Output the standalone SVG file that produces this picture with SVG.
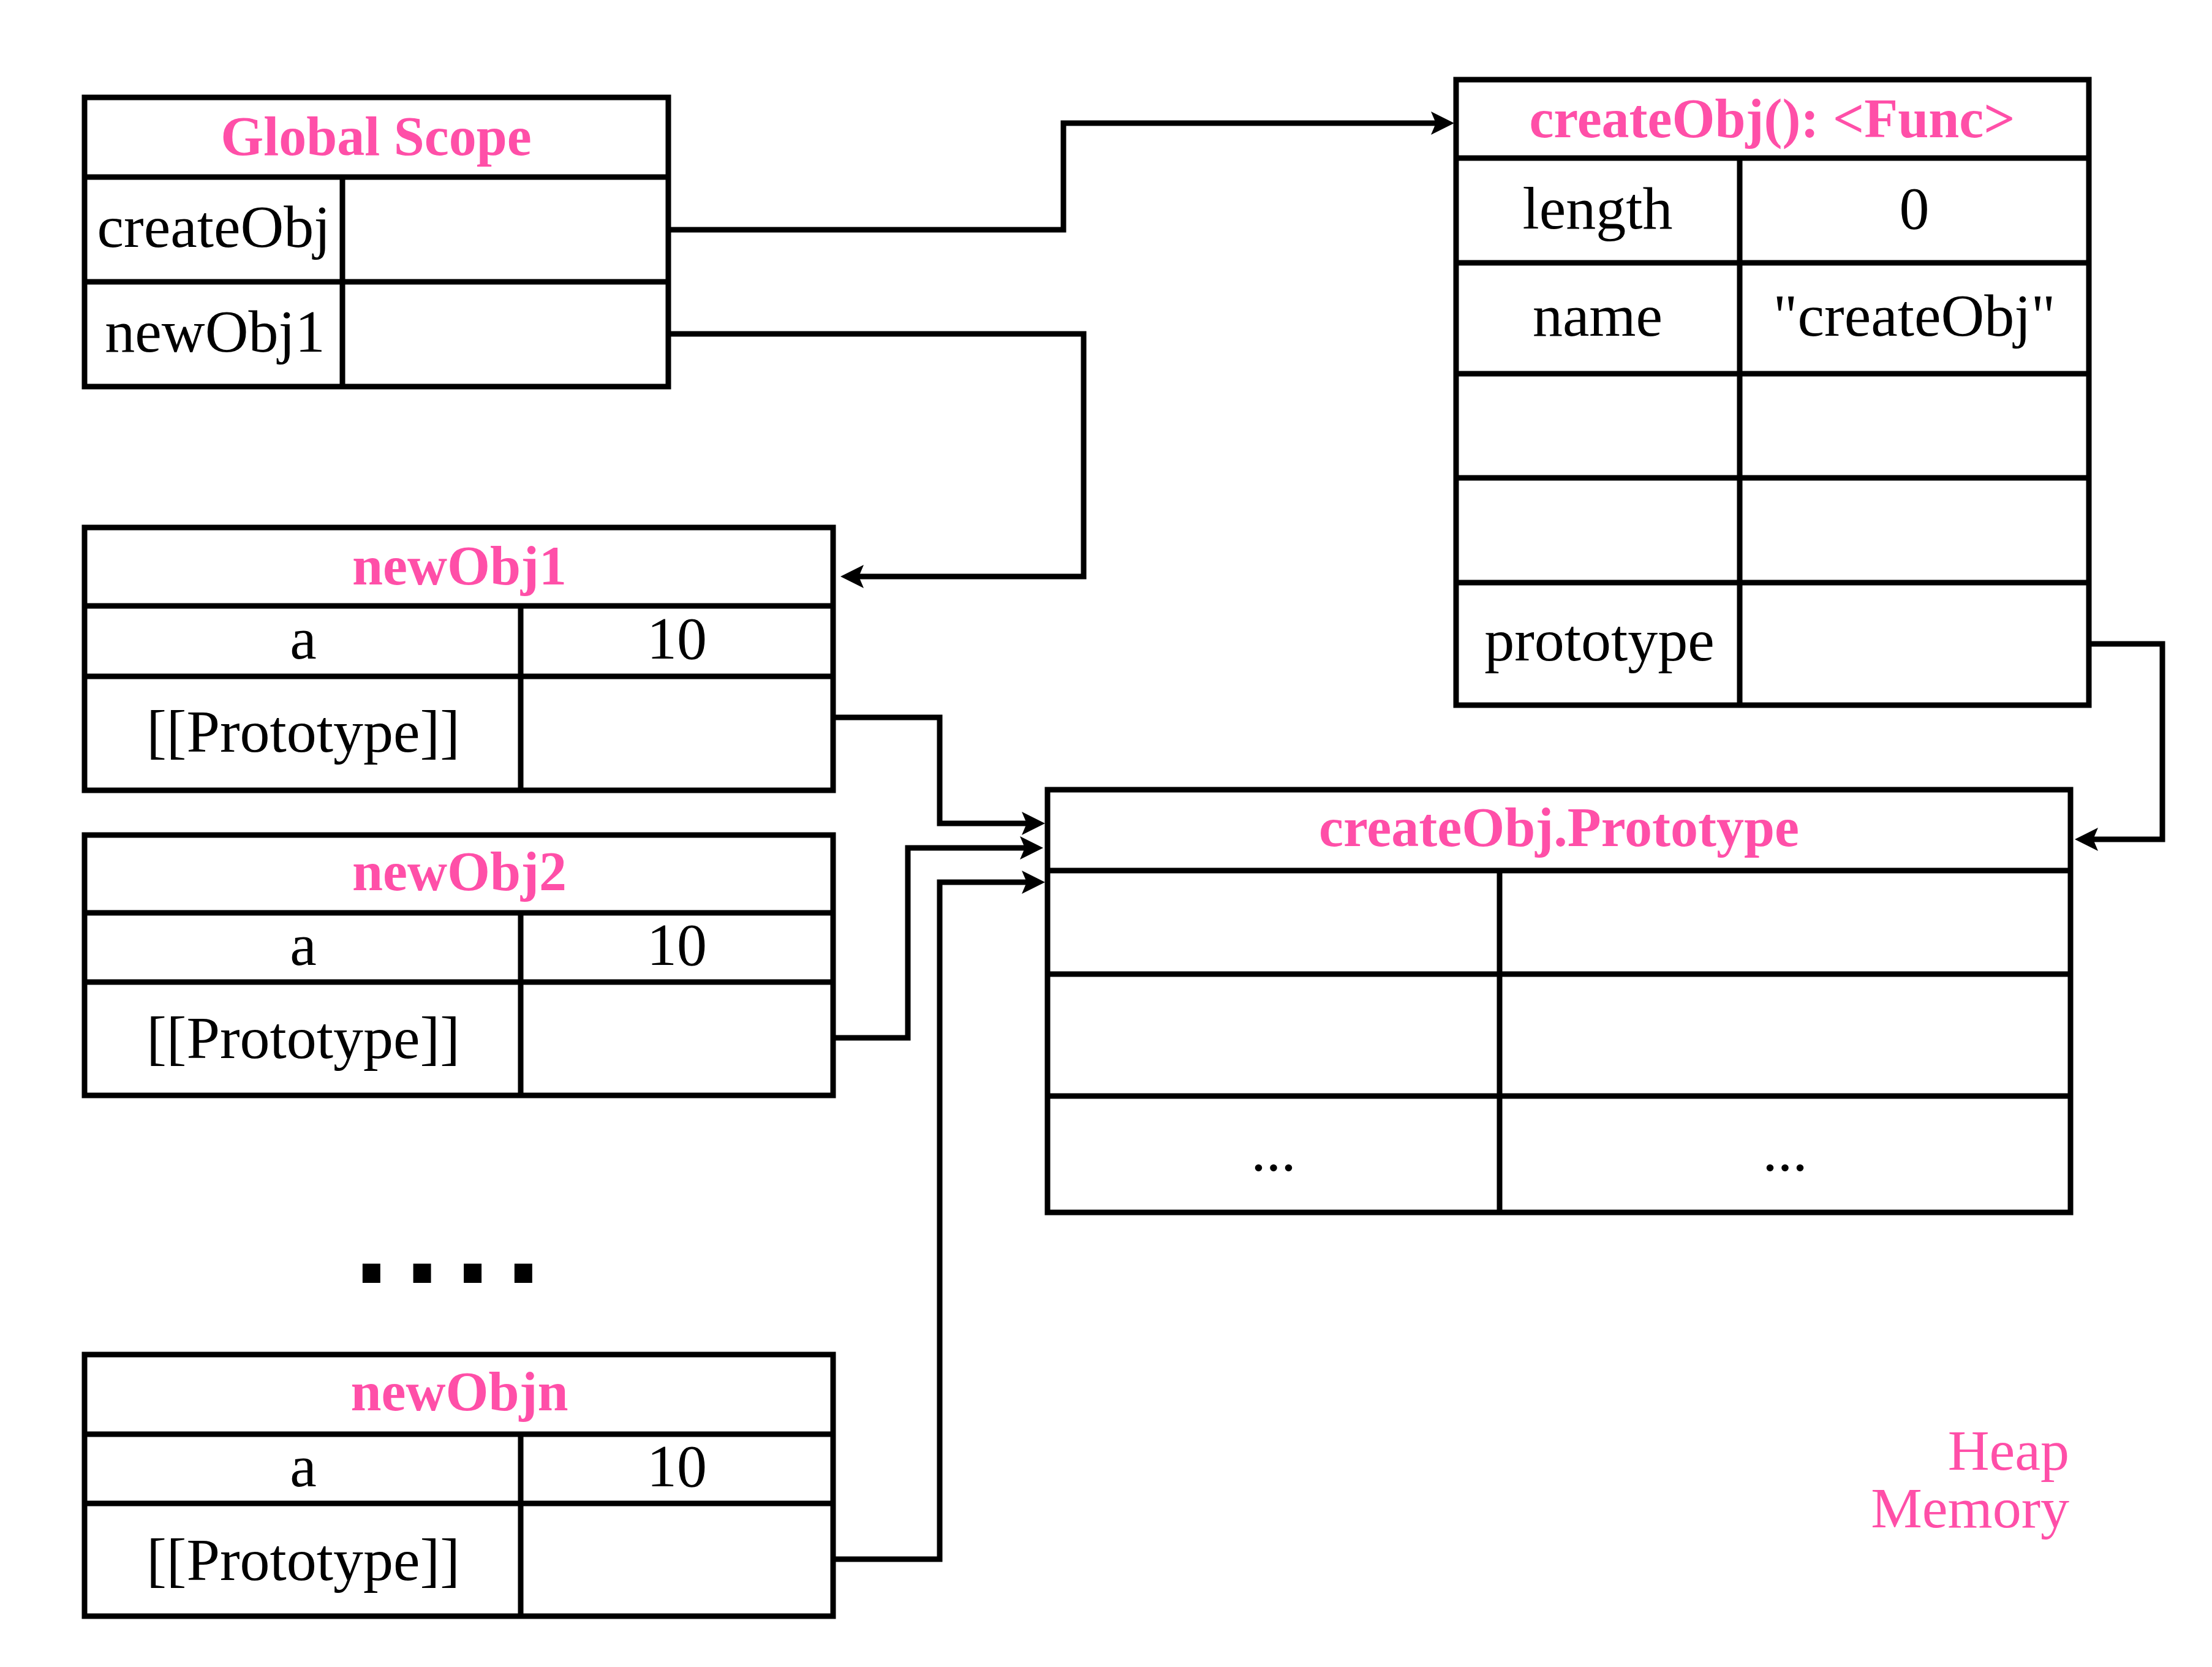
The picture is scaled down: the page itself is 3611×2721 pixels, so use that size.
<svg xmlns="http://www.w3.org/2000/svg" width="3611" height="2721" viewBox="0 0 3611 2721">
<style>
.bg{fill:#ffffff}
.box{fill:#ffffff;stroke:#000000;stroke-width:9}
.ln{stroke:#000000;stroke-width:9;fill:none}
.t{font-family:"Liberation Serif","DejaVu Serif",serif;font-size:98px;fill:#000000;text-anchor:middle}
.h{font-family:"Liberation Serif","DejaVu Serif",serif;font-size:90px;font-weight:bold;fill:#FF4FA8;text-anchor:middle}
.heap{font-family:"Liberation Serif","DejaVu Serif",serif;font-size:94px;fill:#FF4FA8;text-anchor:end}
.dots{font-family:"DejaVu Sans",sans-serif;font-size:165px;font-weight:bold;fill:#000000}
.conn{stroke:#000000;stroke-width:9;fill:none;marker-end:url(#arr)}
</style>
<defs>
<marker id="arr" markerUnits="userSpaceOnUse" viewBox="0 0 38 38" markerWidth="38" markerHeight="38" refX="18" refY="19" orient="auto">
<path d="M0,0 L38,19 L0,38 L8,19 Z" fill="#000000"/>
</marker>
</defs>
<rect class="bg" x="0" y="0" width="3611" height="2721"/>

<g id="global-scope">
<rect class="box" x="138" y="159" width="953" height="472"/>
<line class="ln" x1="138" y1="289" x2="1091" y2="289"/>
<line class="ln" x1="138" y1="460" x2="1091" y2="460"/>
<line class="ln" x1="559" y1="289" x2="559" y2="631"/>
<text class="h" x="614" y="253">Global Scope</text>
<text class="t" x="349" y="403">createObj</text>
<text class="t" x="351" y="574">newObj1</text>
</g>

<g id="createObj-func">
<rect class="box" x="2377" y="130" width="1033" height="1021"/>
<line class="ln" x1="2377" y1="258" x2="3410" y2="258"/>
<line class="ln" x1="2377" y1="429" x2="3410" y2="429"/>
<line class="ln" x1="2377" y1="610" x2="3410" y2="610"/>
<line class="ln" x1="2377" y1="780" x2="3410" y2="780"/>
<line class="ln" x1="2377" y1="951" x2="3410" y2="951"/>
<line class="ln" x1="2840" y1="258" x2="2840" y2="1151"/>
<text class="h" x="2893" y="224">createObj(): &lt;Func&gt;</text>
<text class="t" x="2608" y="373">length</text>
<text class="t" x="3125" y="373">0</text>
<text class="t" x="2608" y="548">name</text>
<text class="t" x="3125" y="548">"createObj"</text>
<text class="t" x="2611" y="1078">prototype</text>
</g>

<g id="newObj1">
<rect class="box" x="138" y="861" width="1222" height="429"/>
<line class="ln" x1="138" y1="989" x2="1360" y2="989"/>
<line class="ln" x1="138" y1="1104" x2="1360" y2="1104"/>
<line class="ln" x1="850" y1="989" x2="850" y2="1290"/>
<text class="h" x="750" y="954">newObj1</text>
<text class="t" x="495" y="1075">a</text>
<text class="t" x="1105" y="1075">10</text>
<text class="t" x="495" y="1227">[[Prototype]]</text>
</g>

<g id="newObj2">
<rect class="box" x="138" y="1363" width="1222" height="425"/>
<line class="ln" x1="138" y1="1490" x2="1360" y2="1490"/>
<line class="ln" x1="138" y1="1603" x2="1360" y2="1603"/>
<line class="ln" x1="850" y1="1490" x2="850" y2="1788"/>
<text class="h" x="750" y="1453">newObj2</text>
<text class="t" x="495" y="1575">a</text>
<text class="t" x="1105" y="1575">10</text>
<text class="t" x="495" y="1727">[[Prototype]]</text>
</g>

<g id="ellipsis">
<text class="dots" x="575" y="2094" letter-spacing="20">....</text>
</g>

<g id="newObjn">
<rect class="box" x="138" y="2211" width="1222" height="427"/>
<line class="ln" x1="138" y1="2341" x2="1360" y2="2341"/>
<line class="ln" x1="138" y1="2454" x2="1360" y2="2454"/>
<line class="ln" x1="850" y1="2341" x2="850" y2="2638"/>
<text class="h" x="750" y="2302">newObjn</text>
<text class="t" x="495" y="2426">a</text>
<text class="t" x="1105" y="2426">10</text>
<text class="t" x="495" y="2579">[[Prototype]]</text>
</g>

<g id="createObj-prototype">
<rect class="box" x="1710" y="1289" width="1670" height="690"/>
<line class="ln" x1="1710" y1="1421" x2="3380" y2="1421"/>
<line class="ln" x1="1710" y1="1590" x2="3380" y2="1590"/>
<line class="ln" x1="1710" y1="1789" x2="3380" y2="1789"/>
<line class="ln" x1="2448" y1="1421" x2="2448" y2="1979"/>
<text class="h" x="2545" y="1381">createObj.Prototype</text>
<text class="t" x="2079" y="1911">...</text>
<text class="t" x="2914" y="1911">...</text>
</g>

<g id="heap-label">
<text class="heap" x="3378" y="2399">Heap</text>
<text class="heap" x="3378" y="2493">Memory</text>
</g>

<g id="connectors">
<path class="conn" d="M1091,375 H1736 V201 H2354"/>
<path class="conn" d="M1091,545 H1769 V941 H1392"/>
<path class="conn" d="M1360,1171 H1534 V1344 H1686"/>
<path class="conn" d="M1360,1694 H1482 V1384 H1683"/>
<path class="conn" d="M1360,2545 H1534 V1440 H1686"/>
<path class="conn" d="M3410,1051 H3530 V1370 H3407"/>
</g>
</svg>
